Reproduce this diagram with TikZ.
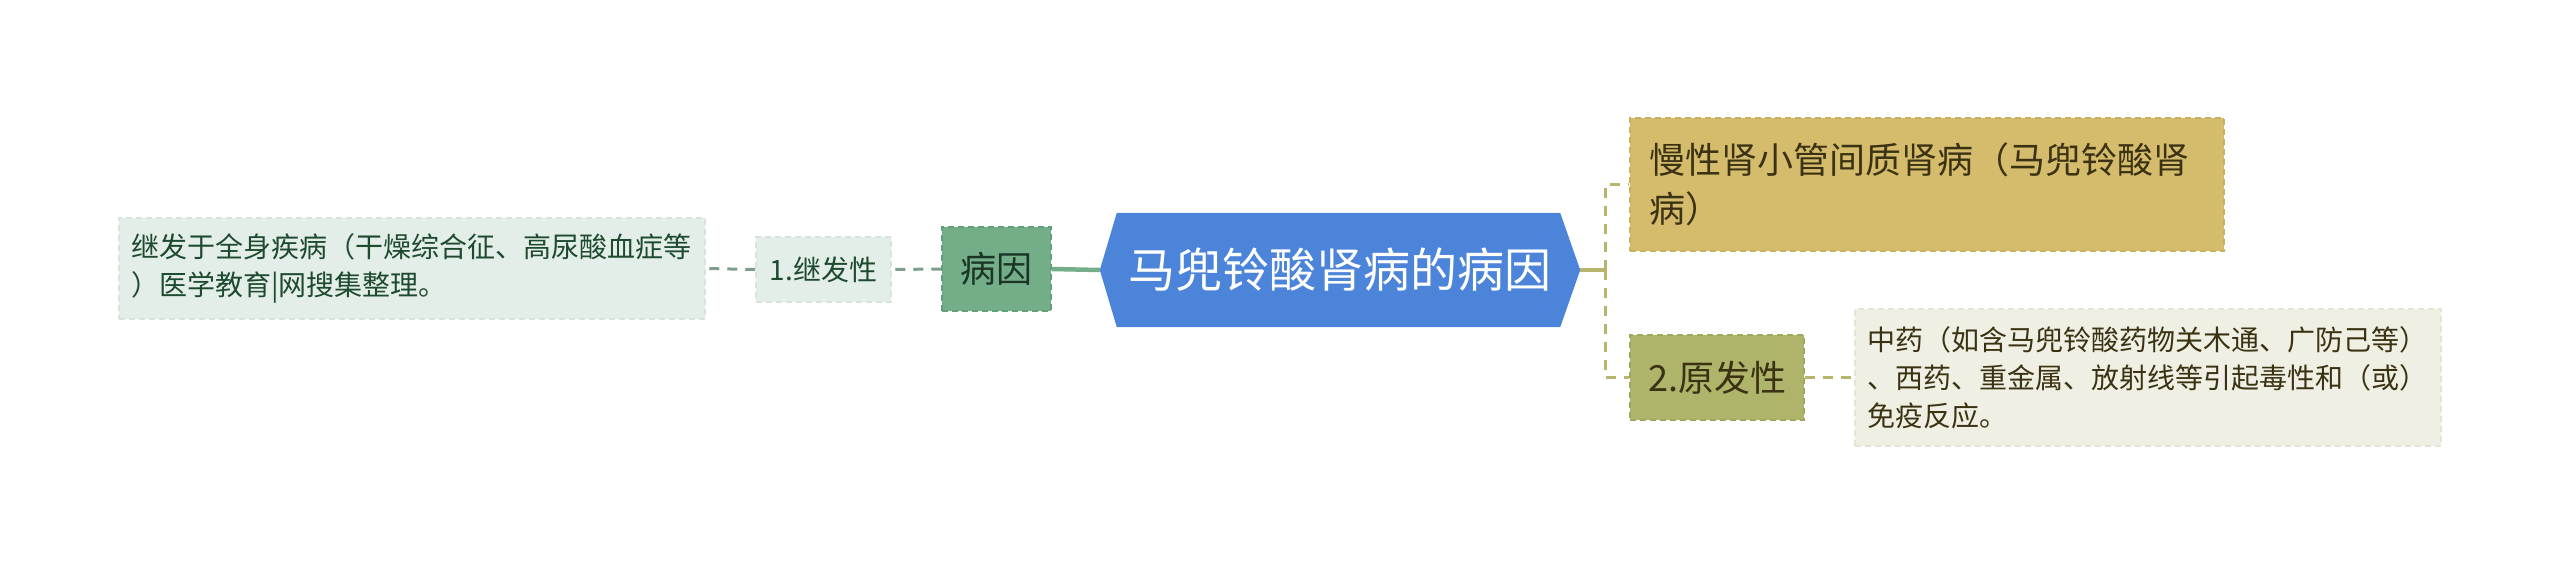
\documentclass[tikz,border=0pt]{standalone}
\usepackage{fontspec}
\setmainfont{Noto Sans CJK SC}
\usepackage{xcolor}
\usetikzlibrary{backgrounds}

\definecolor{rootblue}{HTML}{4C84DA}
\definecolor{causefill}{HTML}{74AE88}
\definecolor{causeline}{HTML}{62A078}
\definecolor{causetext}{HTML}{1B3526}
\definecolor{leftfill}{HTML}{E4EEE8}
\definecolor{leftedge}{HTML}{D6E4DC}
\definecolor{lefttext}{HTML}{1E4A30}
\definecolor{leftline}{HTML}{7C9E8A}
\definecolor{goldfill}{HTML}{D5BC6C}
\definecolor{goldedge}{HTML}{C9B05C}
\definecolor{olivefill}{HTML}{AEB56B}
\definecolor{oliveedge}{HTML}{A0A85E}
\definecolor{notefill}{HTML}{EFF0E3}
\definecolor{noteedge}{HTML}{E3E5D2}
\definecolor{darktext}{HTML}{3A3212}
\definecolor{rightline}{HTML}{B8B46C}

\tikzset{
  box/.style={rectangle, draw, dash pattern=on 6pt off 4pt, line width=1.5pt,
              inner ysep=0pt, anchor=center},
  big/.style={font=\fontsize{36}{49}\selectfont},
  small/.style={font=\fontsize{28}{38}\selectfont},
  trunk/.style={line width=4.5pt},
  twig/.style={line width=3pt, dash pattern=on 10pt off 8pt},
}

\begin{document}
\begin{tikzpicture}[x=1pt,y=-1pt]
  \useasboundingbox (0,0) rectangle (2560,565);

  \node[minimum width=480pt, minimum height=114pt, inner sep=0pt, text=white,
        font=\fontsize{47}{56}\selectfont] (root) at (1340,270) {马兜铃酸肾病的病因};

  \node[box, big, fill=causefill, draw=causeline, text=causetext,
        minimum width=109pt, minimum height=84pt] (cause) at (996.5,269) {病因};
  \node[box, small, fill=leftfill, draw=leftedge, text=lefttext,
        minimum width=135pt, minimum height=65pt] (second) at (823.5,269.5) {1.继发性};
  \node[box, small, fill=leftfill, draw=leftedge, text=lefttext, align=left,
        text width=562pt, inner xsep=12pt, minimum height=101pt] (secondnote) at (412,268.5)
        {继发于全身疾病（干燥综合征、高尿酸血症等\\）医学教育|网搜集整理。};

  \node[box, big, fill=goldfill, draw=goldedge, text=darktext, align=left,
        text width=556pt, inner xsep=19pt, minimum height=133pt] (chronic) at (1927,184.5)
        {慢性肾小管间质肾病（马兜铃酸肾\\病）};
  \node[box, big, fill=olivefill, draw=oliveedge, text=darktext,
        minimum width=174pt, minimum height=85pt] (primary) at (1717,377.5) {2.原发性};
  \node[box, small, fill=notefill, draw=noteedge, text=darktext, align=left,
        text width=562pt, inner xsep=12pt, minimum height=137pt] (primarynote) at (2148,377.5)
        {中药（如含马兜铃酸药物关木通、广防己等）\\、西药、重金属、放射线等引起毒性和（或）\\免疫反应。};

  \coordinate (fork) at (1605,270);

  \begin{scope}[on background layer]
    \fill[rootblue] (root.west) -- ([xshift=17pt]root.north west) -- ([xshift=-20pt]root.north east)
      -- (root.east) -- ([xshift=-20pt]root.south east) -- ([xshift=17pt]root.south west) -- cycle;
    \draw[trunk, causefill] (root.west) -- (cause.east);
    \draw[twig, leftline] (cause.west) -- (second.east);
    \draw[twig, leftline] (second.west) -- (secondnote.east);
    \draw[trunk, rightline] (root.east) -- (fork);
    \draw[twig, rightline] (fork) |- (chronic.west);
    \draw[twig, rightline] (fork) |- (primary.west);
    \draw[twig, rightline] (primary.east) -- (primarynote.west);
  \end{scope}
\end{tikzpicture}
\end{document}
